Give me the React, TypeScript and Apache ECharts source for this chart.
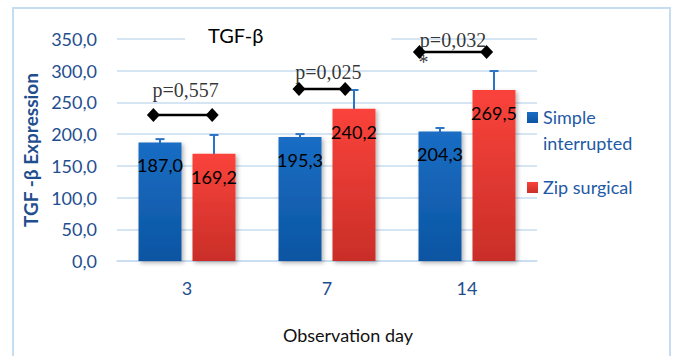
import React, { useEffect, useRef } from "react";
import * as echarts from "echarts";

const days = ["3", "7", "14"];
const simpleVals = [187.0, 195.3, 204.3];
const zipVals = [169.2, 240.2, 269.5];
const simpleErr = [5.2, 4.8, 5.4];
const zipErr = [29.5, 29.4, 30.0];
const yTicks = { min: 0, max: 350, interval: 50 };

const pLabels = ["p=0,557", "p=0,025", "p=0,032"];
const bracketY = [230, 271, 329.5];
const bracketX0 = [0.26, 1.3, 2.16];
const bracketX1 = [0.68, 1.63, 2.64];
const pLabelX = [0.49, 1.51, 2.4];
const pLabelY = [269.6, 298, 348.4];
const starPoint = [2.19, 313];

const fmt = (v: number) => v.toFixed(1).replace(".", ",");

const BLUE_TXT = "#1F4E8F";
const LEG_TXT = "#1F5AA5";
const FONT = "Lato, 'Open Sans', sans-serif";

const blueGrad = new echarts.graphic.LinearGradient(0, 0, 0, 1, [
  { offset: 0, color: "#1A6DC4" },
  { offset: 1, color: "#0C55A2" },
]);
const redGrad = new echarts.graphic.LinearGradient(0, 0, 0, 1, [
  { offset: 0, color: "#FA433B" },
  { offset: 1, color: "#C92E28" },
]);

const BAR_W = 0.307;
const BAR_GAP = 0.256;
const OFFSET = (BAR_W + BAR_W * BAR_GAP) / 2;

function errRender(sign: number) {
  return (params: any, api: any) => {
    const i = api.value(0);
    const v = api.value(1);
    const e = api.value(2);
    const band = api.size([1, 0])[0];
    const dx = sign * band * OFFSET;
    const top = api.coord([i, v + e]);
    const bot = api.coord([i, v - e]);
    const x = top[0] + dx;
    const cap = 4.5;
    const style = { stroke: "#2C74C6", lineWidth: 2 };
    return {
      type: "group",
      children: [
        { type: "line", shape: { x1: x, y1: top[1], x2: x, y2: bot[1] }, style },
        { type: "line", shape: { x1: x - cap, y1: top[1], x2: x + cap, y2: top[1] }, style },
      ],
    };
  };
}

export default function App() {
  const ref = useRef<HTMLDivElement>(null);
  useEffect(() => {
    if (!ref.current) return;
    const chart = echarts.init(ref.current, undefined, { renderer: "svg" });
    const barLabel = {
      show: true,
      position: "insideTop",
      distance: 14,
      color: "#000",
      fontSize: 18,
      fontFamily: FONT,
      formatter: (p: any) => fmt(p.value),
    };
    const shadow = {
      shadowBlur: 4,
      shadowColor: "rgba(0,0,0,0.3)",
      shadowOffsetX: 2,
      shadowOffsetY: 2,
    };
    const bracketSeries = pLabels.map((_, k) => ({
      type: "line",
      xAxisIndex: 1,
      yAxisIndex: 0,
      data: [
        [bracketX0[k], bracketY[k]],
        [bracketX1[k], bracketY[k]],
      ],
      symbol: "diamond",
      symbolSize: [13, 14],
      itemStyle: { color: "#000" },
      lineStyle: { color: "#000", width: 2.5 },
      z: 5,
      silent: true,
    }));
    chart.setOption({
      animation: false,
      backgroundColor: "#fff",
      title: {
        text: "TGF-β",
        left: 185,
        top: 22,
        padding: [3, 128, 3, 23],
        backgroundColor: "#fff",
        textStyle: { color: "#000", fontSize: 20, fontWeight: "normal", fontFamily: FONT },
      },
      grid: { left: 117, right: 139, top: 39, bottom: 95 },
      xAxis: [
        {
          type: "category",
          data: days,
          axisLine: { lineStyle: { color: "#C9DDF1", width: 1.5 } },
          axisTick: { show: false },
          axisLabel: { color: BLUE_TXT, fontSize: 18, fontFamily: FONT, margin: 18 },
        },
        { type: "value", min: 0, max: 3, show: false },
      ],
      yAxis: {
        type: "value",
        min: yTicks.min,
        max: yTicks.max,
        interval: yTicks.interval,
        name: "TGF -β Expression",
        nameLocation: "middle",
        nameGap: 75,
        nameTextStyle: { color: BLUE_TXT, fontSize: 19, fontWeight: "bold", fontFamily: FONT },
        axisLine: { show: false },
        axisTick: { show: false },
        axisLabel: { color: BLUE_TXT, fontSize: 18, fontFamily: FONT, margin: 20, formatter: fmt },
        splitLine: { lineStyle: { color: "#C9DDF1", width: 1.5 } },
      },
      series: [
        {
          name: "Simple interrupted",
          type: "bar",
          data: simpleVals,
          barWidth: BAR_W * 100 + "%",
          barGap: BAR_GAP * 100 + "%",
          itemStyle: { color: blueGrad, ...shadow },
          label: barLabel,
          z: 2,
        },
        {
          name: "Zip surgical",
          type: "bar",
          data: zipVals,
          barWidth: BAR_W * 100 + "%",
          barGap: BAR_GAP * 100 + "%",
          itemStyle: { color: redGrad, ...shadow },
          label: barLabel,
          z: 2,
        },
        {
          type: "custom",
          renderItem: errRender(-1),
          data: simpleVals.map((v, i) => [i, v, simpleErr[i]]),
          z: 2,
          silent: true,
        },
        {
          type: "custom",
          renderItem: errRender(1),
          data: zipVals.map((v, i) => [i, v, zipErr[i]]),
          z: 2,
          silent: true,
        },
        ...bracketSeries,
        {
          type: "scatter",
          xAxisIndex: 1,
          yAxisIndex: 0,
          data: pLabelX.map((x, k) => [x, pLabelY[k]]),
          symbolSize: 1,
          itemStyle: { color: "rgba(0,0,0,0)" },
          label: {
            show: true,
            position: "inside",
            color: "#000",
            fontSize: 20,
            fontFamily: "'Liberation Serif', 'Times New Roman', serif",
            formatter: (p: any) => pLabels[p.dataIndex],
          },
          z: 6,
          silent: true,
        },
        {
          type: "scatter",
          xAxisIndex: 1,
          yAxisIndex: 0,
          data: [starPoint],
          symbolSize: 1,
          itemStyle: { color: "rgba(0,0,0,0)" },
          label: {
            show: true,
            position: "inside",
            color: "#000",
            fontSize: 20,
            fontFamily: "'Liberation Serif', 'Times New Roman', serif",
            formatter: "*",
          },
          z: 6,
          silent: true,
        },
      ],
      graphic: [
        {
          type: "rect",
          shape: { x: 13, y: 8, width: 657, height: 360 },
          style: { fill: "none", stroke: "#C6DCF0", lineWidth: 2 },
          z: -1,
          silent: true,
        },
        {
          type: "rect",
          shape: { x: 527, y: 112, width: 11, height: 11 },
          style: { fill: blueGrad },
        },
        {
          type: "text",
          x: 543,
          y: 117,
          style: { text: "Simple", fill: LEG_TXT, fontSize: 18, fontFamily: FONT, verticalAlign: "middle" },
        },
        {
          type: "text",
          x: 543,
          y: 143,
          style: { text: "interrupted", fill: LEG_TXT, fontSize: 18, fontFamily: FONT, verticalAlign: "middle" },
        },
        {
          type: "rect",
          shape: { x: 527, y: 182, width: 11, height: 11 },
          style: { fill: redGrad },
        },
        {
          type: "text",
          x: 543,
          y: 187,
          style: { text: "Zip surgical", fill: LEG_TXT, fontSize: 18, fontFamily: FONT, verticalAlign: "middle" },
        },
        {
          type: "text",
          x: 348,
          y: 335,
          style: {
            text: "Observation day",
            fill: "#111",
            fontSize: 18,
            fontFamily: FONT,
            align: "center",
            verticalAlign: "middle",
          },
        },
      ],
    });
    return () => chart.dispose();
  }, []);
  return (
    <div
      ref={ref}
      style={{ position: "absolute", left: 0, top: 0, width: 676, height: 356 }}
    />
  );
}
